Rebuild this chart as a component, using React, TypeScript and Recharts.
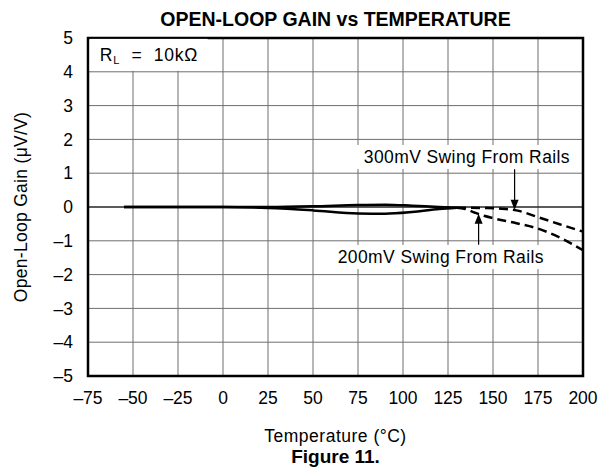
import React from "react";
import {
  LineChart,
  Line,
  XAxis,
  YAxis,
  CartesianGrid,
  ReferenceArea,
  ReferenceLine,
  ReferenceDot,
} from "recharts";

const FONT = '"Liberation Sans", Arial, Helvetica, sans-serif';

// temperature (°C) and open-loop gain change (µV/V)
const solidTemps = [-55, -25, 0, 25, 50, 75, 90, 105, 120, 130];
const solidLower = [0, 0, 0, -0.03, -0.1, -0.19, -0.2, -0.15, -0.06, -0.02];
const solidUpper = [0, 0, 0, 0, 0.02, 0.06, 0.07, 0.04, 0, -0.02];

const swing300Temps = [130, 145, 155, 163, 175, 187, 200];
const swing300Gain = [-0.02, -0.03, -0.05, -0.1, -0.3, -0.51, -0.73];

const swing200Temps = [130, 134, 140, 145, 150, 163, 175, 187, 200];
const swing200Gain = [-0.02, -0.05, -0.17, -0.26, -0.33, -0.48, -0.64, -0.9, -1.28];

const xTicks = [-75, -50, -25, 0, 25, 50, 75, 100, 125, 150, 175, 200];
const yTicks = [-5, -4, -3, -2, -1, 0, 1, 2, 3, 4, 5];

const toPoints = (xs: number[], ys: number[]) =>
  xs.map((x, i) => ({ x, y: ys[i] }));

const fmt = (v: number) => (v < 0 ? `\u2013${Math.abs(v)}` : `${v}`);

const arrowHead = (dir: "up" | "down") => (props: any) => {
  const { cx, cy } = props;
  const h = 10;
  const w = 4;
  const pts =
    dir === "down"
      ? `${cx},${cy} ${cx - w},${cy - h} ${cx + w},${cy - h}`
      : `${cx},${cy} ${cx - w},${cy + h} ${cx + w},${cy + h}`;
  return <polygon points={pts} fill="#000" />;
};

// label with a white box behind it that hides the grid
const textShape = (label: string, boxW: number) => (props: any) => (
  <g>
    <rect x={props.cx - boxW / 2} y={props.cy - 12} width={boxW} height={24} fill="#fff" />
    <text
      x={props.cx}
      y={props.cy}
      textAnchor="middle"
      dominantBaseline="central"
      fontSize={17.5}
      letterSpacing={0.4}
      fontFamily={FONT}
      fill="#000"
    >
      {label}
    </text>
  </g>
);

const rlShape = (props: any) => (
  <g>
    <rect x={props.cx - 10} y={props.cy - 16} width={118} height={32} fill="#fff" />
    <text
      x={props.cx}
      y={props.cy}
      dominantBaseline="central"
      fontSize={17.5}
      letterSpacing={0.8}
      fontFamily={FONT}
      fill="#000"
    >
      R
      <tspan fontSize={11} dy={5}>
        L
      </tspan>
      <tspan dy={-5}>{"\u00a0\u00a0=\u00a0\u00a010kΩ"}</tspan>
    </text>
  </g>
);

export default function App() {
  const tickStyle = { fill: "#000", fontSize: 17.5, fontFamily: FONT };
  return (
    <div
      style={{
        position: "absolute",
        left: 0,
        top: 0,
        width: 599,
        height: 469,
        background: "#fff",
        fontFamily: FONT,
      }}
    >
      <div
        style={{
          position: "absolute",
          top: 8,
          left: 88,
          width: 495,
          textAlign: "center",
          fontWeight: "bold",
          fontSize: 19.5,
          lineHeight: "22px",
        }}
      >
        OPEN-LOOP GAIN vs TEMPERATURE
      </div>
      <LineChart
        width={599}
        height={469}
        margin={{ top: 38, right: 16, bottom: 0, left: 0 }}
      >
        <CartesianGrid
          stroke="#6e6e6e"
          strokeWidth={1}
          horizontalValues={yTicks}
          verticalValues={xTicks}
        />
        <XAxis
          dataKey="x"
          type="number"
          domain={[-75, 200]}
          ticks={xTicks}
          tickFormatter={fmt}
          tick={tickStyle}
          tickLine={false}
          axisLine={false}
          tickSize={0}
          tickMargin={16}
          height={93}
          allowDuplicatedCategory={false}
        />
        <YAxis
          type="number"
          domain={[-5, 5]}
          ticks={yTicks}
          tickFormatter={fmt}
          tick={tickStyle}
          tickLine={false}
          axisLine={false}
          tickSize={0}
          tickMargin={15}
          width={88}
        />
        <ReferenceLine y={0} stroke="#000" strokeWidth={1} />
        <ReferenceDot x={-68.5} y={4.5} r={0} shape={rlShape} />
        <ReferenceDot
          x={135.5}
          y={1.48}
          r={0}
          shape={textShape("300mV Swing From Rails", 220)}
        />
        <ReferenceDot
          x={121}
          y={-1.48}
          r={0}
          shape={textShape("200mV Swing From Rails", 220)}
        />
        <ReferenceArea
          x1={-75}
          x2={200}
          y1={-5}
          y2={5}
          fill="none"
          fillOpacity={0}
          stroke="#000"
          strokeWidth={2.5}
        />
        <Line
          data={toPoints(solidTemps, solidLower)}
          dataKey="y"
          type="monotone"
          stroke="#000"
          strokeWidth={2.5}
          dot={false}
          isAnimationActive={false}
        />
        <Line
          data={toPoints(solidTemps, solidUpper)}
          dataKey="y"
          type="monotone"
          stroke="#000"
          strokeWidth={2.5}
          dot={false}
          isAnimationActive={false}
        />
        <Line
          data={toPoints(swing300Temps, swing300Gain)}
          dataKey="y"
          type="monotone"
          stroke="#000"
          strokeWidth={2.5}
          strokeDasharray="9 5"
          dot={false}
          isAnimationActive={false}
        />
        <Line
          data={toPoints(swing200Temps, swing200Gain)}
          dataKey="y"
          type="monotone"
          stroke="#000"
          strokeWidth={2.5}
          strokeDasharray="9 5"
          dot={false}
          isAnimationActive={false}
        />
        <ReferenceLine
          segment={[
            { x: 162, y: 1.12 },
            { x: 162, y: 0.1 },
          ]}
          stroke="#000"
          strokeWidth={1.2}
        />
        <ReferenceDot x={162} y={-0.08} r={0} shape={arrowHead("down")} />
        <ReferenceLine
          segment={[
            { x: 142, y: -1.12 },
            { x: 142, y: -0.4 },
          ]}
          stroke="#000"
          strokeWidth={1.2}
        />
        <ReferenceDot x={142} y={-0.2} r={0} shape={arrowHead("up")} />
      </LineChart>
      <div
        style={{
          position: "absolute",
          left: 21,
          top: 207,
          transform: "translate(-50%, -50%) rotate(-90deg)",
          whiteSpace: "nowrap",
          fontSize: 17.5,
          letterSpacing: 0.3,
        }}
      >
        Open-Loop Gain (μV/V)
      </div>
      <div
        style={{
          position: "absolute",
          top: 425,
          left: 88,
          width: 495,
          textAlign: "center",
          fontSize: 17.5,
          letterSpacing: 0.5,
          lineHeight: "22px",
        }}
      >
        Temperature (°C)
      </div>
      <div
        style={{
          position: "absolute",
          top: 446,
          left: 88,
          width: 495,
          textAlign: "center",
          fontSize: 19,
          fontWeight: "bold",
          lineHeight: "22px",
        }}
      >
        Figure 11.
      </div>
    </div>
  );
}
